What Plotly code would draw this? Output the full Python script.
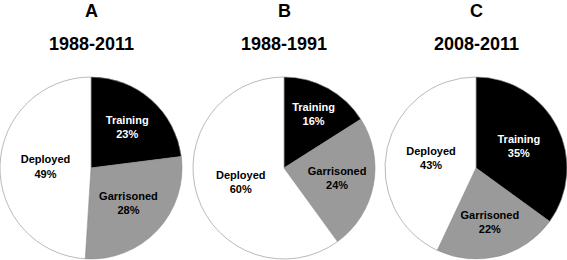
import plotly.graph_objects as go

categories = ["Training", "Garrisoned", "Deployed"]
panel_letters = ["A", "B", "C"]
periods = ["1988-2011", "1988-1991", "2008-2011"]
values_a = [23, 28, 49]
values_b = [16, 24, 60]
values_c = [35, 22, 43]
series = [values_a, values_b, values_c]

colors = ["#000000", "#9a9a9a", "#ffffff"]
text_colors = ["#ffffff", "#000000", "#000000"]

W, H = 567, 260
centers_x = [91, 284, 476]
center_y_top = 168
radius = 91

fig = go.Figure()
for i, vals in enumerate(series):
    cx = centers_x[i]
    cy = H - center_y_top
    fig.add_trace(go.Pie(
        labels=categories,
        values=vals,
        sort=False,
        direction="clockwise",
        rotation=0,
        marker=dict(colors=colors, line=dict(color="#8c8c8c", width=0.6)),
        texttemplate="%{label}<br>%{value}%",
        textposition="inside",
        insidetextorientation="horizontal",
        textfont=dict(family="Liberation Sans", size=11, color=text_colors, weight="bold"),
        showlegend=False,
        hoverinfo="label+value",
        domain=dict(x=[(cx - radius) / W, (cx + radius) / W],
                    y=[(cy - radius) / H, (cy + radius) / H]),
    ))
    fig.add_annotation(x=cx / W, y=1 - 11 / H, xref="paper", yref="paper",
                       xanchor="center", yanchor="middle",
                       text=panel_letters[i], showarrow=False,
                       font=dict(family="Liberation Sans", size=18, color="#000", weight="bold"))
    fig.add_annotation(x=cx / W, y=1 - 44 / H, xref="paper", yref="paper",
                       xanchor="center", yanchor="middle",
                       text=periods[i], showarrow=False,
                       font=dict(family="Liberation Sans", size=18, color="#000", weight="bold"))

fig.update_layout(width=W, height=H, margin=dict(l=0, r=0, t=0, b=0),
                  paper_bgcolor="white", plot_bgcolor="white")
fig.write_html("out.html", config={"displayModeBar": False},
               post_script="document.body.style.margin='0';")
